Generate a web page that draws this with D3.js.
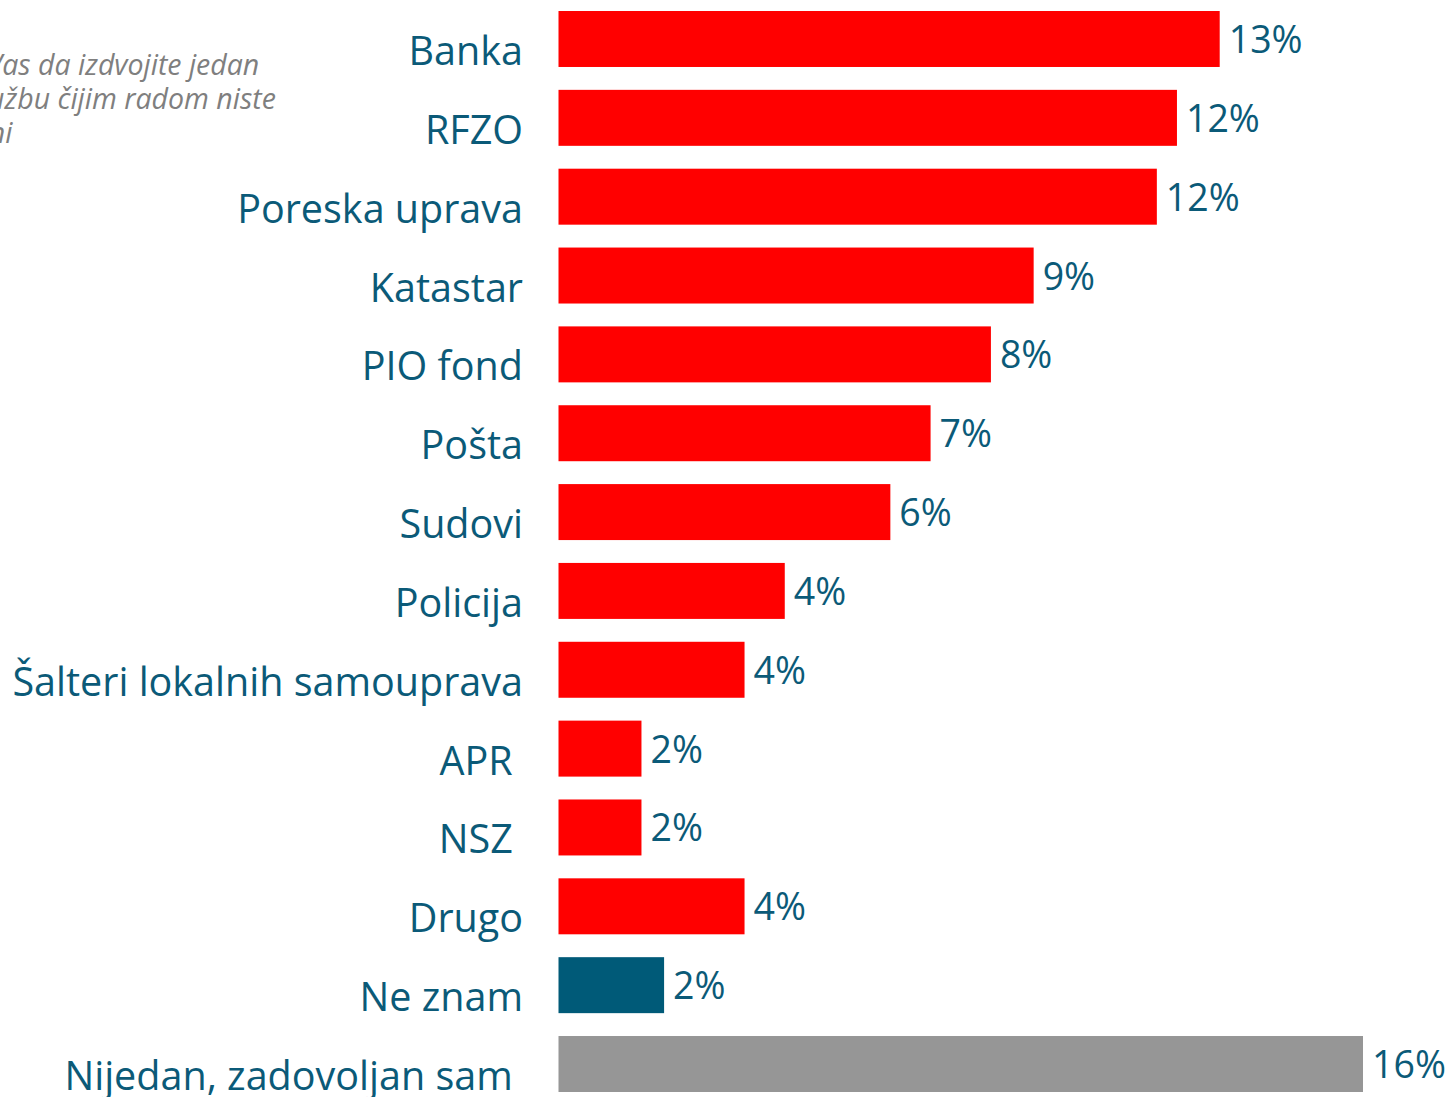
<!DOCTYPE html>
<html>
<head>
<meta charset="utf-8">
<script src="https://cdn.jsdelivr.net/npm/d3@7"></script>
<style>
  body { margin: 0; background: #fff; }
  svg { display: block; }
  text { font-family: "Open Sans", "Noto Sans", sans-serif; }
</style>
</head>
<body>
<div id="chart"></div>
<script>
const categories = ["Banka", "RFZO", "Poreska uprava", "Katastar", "PIO fond", "Pošta", "Sudovi",
  "Policija", "Šalteri lokalnih samouprava", "APR ", "NSZ ", "Drugo", "Ne znam", "Nijedan, zadovoljan sam "];
const values = [13.15, 12.3, 11.9, 9.45, 8.6, 7.4, 6.6, 4.5, 3.7, 1.65, 1.65, 3.7, 2.1, 16.0];
const valueLabels = ["13%", "12%", "12%", "9%", "8%", "7%", "6%", "4%", "4%", "2%", "2%", "4%", "2%", "16%"];
const barColors = ["#ff0000", "#ff0000", "#ff0000", "#ff0000", "#ff0000", "#ff0000", "#ff0000",
  "#ff0000", "#ff0000", "#ff0000", "#ff0000", "#ff0000", "#005a78", "#969696"];
const questionLines = ["Molimo Vas da izdvojite jedan", "organ/službu čijim radom niste", "zadovoljni"];

const width = 1449, height = 1097;
const textColor = "#0b5a78";

const svg = d3.select("#chart").append("svg")
    .attr("width", width)
    .attr("height", height);

const x = d3.scaleLinear()
    .domain([0, 16])
    .range([558.5, 1363]);

const y = d3.scaleBand()
    .domain(categories)
    .range([11, 1092])
    .paddingInner(0.29)
    .paddingOuter(0);

// question text, runs off the left edge of the page like the original slide
const q = svg.append("g").attr("class", "question");
q.selectAll("text")
    .data(questionLines)
    .enter().append("text")
    .attr("x", -116)
    .attr("y", (d, i) => 75 + i * 34)
    .style("font-size", "28.5px")
    .style("font-style", "italic")
    .style("fill", "#7f7f7f")
    .text(d => d);

svg.selectAll(".bar")
    .data(categories)
    .enter().append("rect")
    .attr("class", "bar")
    .attr("x", x(0))
    .attr("y", d => y(d))
    .attr("width", (d, i) => x(values[i]) - x(0))
    .attr("height", y.bandwidth())
    .attr("fill", (d, i) => barColors[i]);

svg.selectAll(".cat-label")
    .data(categories)
    .enter().append("text")
    .attr("class", "cat-label")
    .attr("x", 523)
    .attr("y", d => y(d) + y.bandwidth() - 2)
    .style("text-anchor", "end")
    .style("white-space", "pre")
    .style("font-size", "39.5px")
    .style("fill", textColor)
    .text(d => d);

svg.selectAll(".value-label")
    .data(categories)
    .enter().append("text")
    .attr("class", "value-label")
    .attr("x", (d, i) => x(values[i]) + 9)
    .attr("y", d => y(d) + 42)
    .style("font-size", "37.5px")
    .style("fill", textColor)
    .text((d, i) => valueLabels[i]);
</script>
</body>
</html>
